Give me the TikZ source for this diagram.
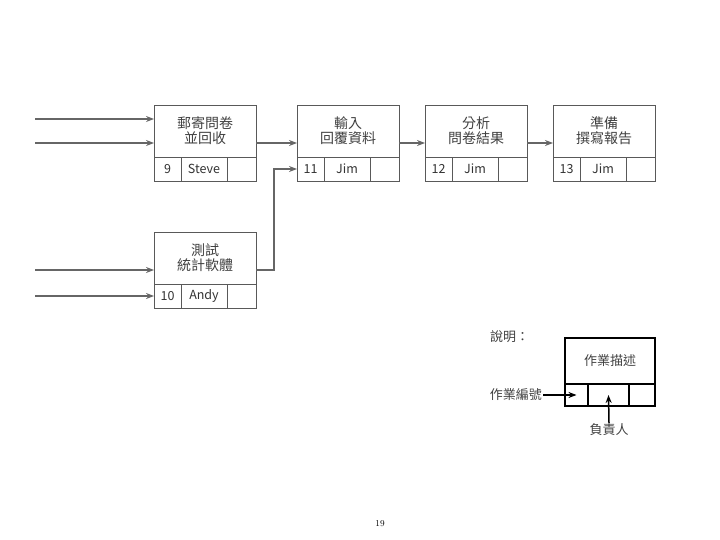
\documentclass[tikz,border=0pt]{standalone}
\usepackage{fontspec}
\newfontfamily\cjk{Noto Sans CJK TC}
\usetikzlibrary{arrows.meta,positioning}
\tikzset{>=Stealth}

\begin{document}
\begin{tikzpicture}[x=1pt,y=-1pt,
    task/.style={draw=black!65, line width=0.9pt, minimum width=102pt, minimum height=52pt,
      anchor=north west, inner sep=0pt, outer sep=0pt, align=center, text=black!75,
      font=\cjk\fontsize{14}{15}\selectfont},
    cell/.style={draw=black!65, line width=0.9pt, minimum height=24pt, anchor=north west,
      inner sep=0pt, outer sep=0pt, text=black!80, font=\cjk\fontsize{12.5}{13}\selectfont},
    flow/.style={-{Stealth[length=8pt,width=6pt]}, draw=black!60, line width=2pt},
    keybox/.style={draw=black, line width=1.2pt, anchor=north west, inner sep=0pt, outer sep=0pt,
      text=black!75, font=\cjk\fontsize{13}{14}\selectfont},
    keytext/.style={inner sep=1pt, text=black!75, font=\cjk\fontsize{13}{14}\selectfont},
    keyarrow/.style={-{Stealth[length=8pt,width=6pt]}, line width=1.5pt}
  ]
    \useasboundingbox (0,0) rectangle (720,540);

    % top row of activities
    \foreach \id/\x/\txt/\who in {9/154/{郵寄問卷\\並回收}/Steve, 11/297/{輸入\\回覆資料}/Jim,
        12/425/{分析\\問卷結果}/Jim, 13/553/{準備\\撰寫報告}/Jim} {
      \node[task] (t\id) at (\x,105) {\txt};
      \node[cell, minimum width=27pt] (n\id) at (t\id.south west) {\id};
      \node[cell, minimum width=46pt] (r\id) at (n\id.north east) {\who};
      \node[cell, minimum width=29pt] (e\id) at (r\id.north east) {};
    }

    % second row
    \node[task] (t10) at (154,232) {測試\\統計軟體};
    \node[cell, minimum width=27pt] (n10) at (t10.south west) {10};
    \node[cell, minimum width=46pt] (r10) at (n10.north east) {Andy};
    \node[cell, minimum width=29pt] (e10) at (r10.north east) {};

    % inputs from the left
    \coordinate (in1) at (35,119);
    \coordinate (in2) at (35,143);
    \coordinate (in3) at (35,270);
    \coordinate (in4) at (35,296);
    \draw[flow] (in1) -- ([yshift=12pt]t9.west);
    \draw[flow] (in2) -- ([yshift=-12pt]t9.west);
    \draw[flow] (in3) -- ([yshift=-12pt]t10.west);
    \draw[flow] (in4) -- (n10.west);

    % flow between activities
    \draw[flow] ([yshift=-12pt]t9.east) -- ([yshift=-12pt]t11.west);
    \draw[flow] ([yshift=-12pt]t10.east) -- ++(18,0) |- (n11.west);
    \draw[flow] ([yshift=-12pt]t11.east) -- ([yshift=-12pt]t12.west);
    \draw[flow] ([yshift=-12pt]t12.east) -- ([yshift=-12pt]t13.west);

    % legend
    \node[keytext, anchor=west] (note) at (489,337) {說明：};
    \node[keybox, minimum width=90pt, minimum height=46pt] (kt) at (565,338) {作業描述};
    \node[keybox, minimum width=23pt, minimum height=22pt] (kn) at (kt.south west) {};
    \node[keybox, minimum width=41pt, minimum height=22pt] (kr) at (kn.north east) {};
    \node[keybox, minimum width=26pt, minimum height=22pt] (ke) at (kr.north east) {};
    \node[keytext, anchor=east] (idlab) at (543,395) {作業編號};
    \node[keytext] (wholab) at (609,430) {負責人};
    \draw[keyarrow] (idlab.east) -- (kn.center);
    \draw[keyarrow] (wholab.north) -- (kr.center);

    % page number
    \node[font=\fontsize{9}{10}\selectfont] (page) at (380,524) {19};
\end{tikzpicture}
\end{document}
